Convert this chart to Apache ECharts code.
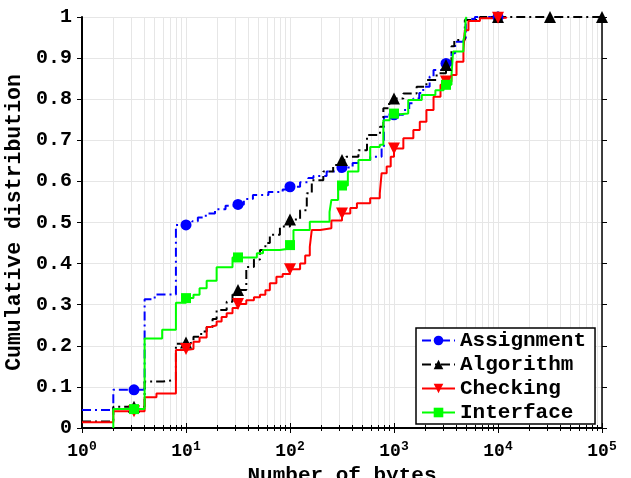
<!DOCTYPE html>
<html>
<head>
<meta charset="utf-8">
<script src="https://cdn.jsdelivr.net/npm/echarts@6/dist/echarts.min.js"></script>
<style>html,body{margin:0;padding:0;background:#fff}#c{width:631px;height:478px}</style>
</head>
<body>
<div id="c"></div>
<script>
// ---- data ----
var seriesNames = ['Assignment', 'Algorithm', 'Checking', 'Interface'];
var markerX = [3.162, 10, 31.62, 100, 316.2, 1000, 3162, 10000, 31623, 100000];
var yTicks = [0, 0.1, 0.2, 0.3, 0.4, 0.5, 0.6, 0.7, 0.8, 0.9, 1];
var xTickExponents = [0, 1, 2, 3, 4, 5];

var assignment = [[1,0.044],[2,0.093],[3.162,0.093],[4,0.313],[5,0.325],[8,0.494],[10,0.494],[11.5,0.503],[13,0.512],[15.5,0.522],[19,0.532],[24,0.541],[31.62,0.544],[36,0.557],[44,0.567],[62,0.574],[85,0.58],[100,0.587],[125,0.598],[150,0.608],[168,0.613],[225,0.624],[316.2,0.634],[400,0.645],[470,0.652],[590,0.66],[760,0.684],[800,0.757],[1000,0.762],[1230,0.774],[1400,0.79],[1535,0.802],[1750,0.815],[1910,0.83],[2200,0.855],[2400,0.871],[2960,0.887],[3162,0.887],[3570,0.912],[3870,0.94],[4650,0.948],[4900,0.995],[6000,1.0],[10000,1.0]];
var algorithm = [[1,0.016],[2,0.052],[3.162,0.052],[4,0.113],[6,0.117],[8,0.205],[10,0.208],[11.8,0.222],[14,0.235],[15.8,0.246],[18,0.265],[19.7,0.287],[24.6,0.307],[28,0.325],[31.62,0.336],[38,0.392],[45,0.41],[51.5,0.433],[58,0.45],[64,0.47],[80,0.49],[100,0.507],[125,0.53],[145,0.571],[162,0.603],[209,0.624],[260,0.64],[316.2,0.652],[346,0.66],[455,0.676],[550,0.713],[733,0.733],[790,0.778],[900,0.795],[1000,0.802],[1230,0.814],[1650,0.83],[2050,0.847],[2570,0.863],[3162,0.883],[3570,0.929],[3800,0.944],[4800,0.993],[6700,1.0],[10000,1.0],[31623,1.0],[100000,1.0]];
var checking = [[1,0.014],[2,0.041],[3.162,0.041],[4,0.075],[5.2,0.084],[8,0.19],[10,0.192],[11.8,0.21],[13.5,0.22],[15.8,0.246],[17.5,0.25],[19.7,0.259],[22,0.27],[24.6,0.279],[28,0.292],[31.62,0.302],[38,0.311],[45,0.318],[51.5,0.324],[58,0.335],[64,0.352],[74,0.368],[85,0.375],[100,0.386],[125,0.4],[140,0.42],[155,0.441],[162,0.482],[195,0.486],[250,0.505],[316.2,0.522],[380,0.535],[440,0.547],[590,0.559],[730,0.571],[760,0.62],[850,0.636],[930,0.66],[1000,0.68],[1230,0.705],[1535,0.725],[1770,0.745],[2050,0.774],[2400,0.806],[2800,0.835],[3162,0.843],[3570,0.859],[3990,0.891],[4650,0.916],[4800,0.968],[5200,0.99],[6700,0.997],[10000,0.998],[12000,1.0]];
var interfaceData = [[2,0],[2,0.046],[3.162,0.046],[4,0.218],[5.9,0.239],[8,0.305],[10,0.316],[11.8,0.324],[13.5,0.34],[15.8,0.358],[19.7,0.391],[28,0.415],[31.62,0.415],[48,0.425],[55,0.433],[80,0.437],[100,0.445],[108,0.482],[155,0.502],[240,0.526],[250,0.555],[290,0.585],[316.2,0.59],[360,0.624],[455,0.652],[590,0.684],[730,0.689],[790,0.749],[910,0.762],[1000,0.765],[1370,0.798],[1850,0.81],[2500,0.822],[3000,0.835],[3162,0.835],[3570,0.859],[3700,0.916],[4650,0.944],[4800,0.956],[4900,0.997],[5000,1.0]];

var colors = ['#0000ff', '#000000', '#ff0000', '#00ff00'];
var FONT = '"Liberation Mono", "DejaVu Sans Mono", monospace';

function isMarker(x) {
  for (var i = 0; i < markerX.length; i++) if (Math.abs(markerX[i] - x) < 1e-9) return true;
  return false;
}
function build(arr, sym, size) {
  return arr.map(function (p) {
    return isMarker(p[0]) ? { value: p, symbol: sym, symbolSize: size } : { value: p, symbol: 'none' };
  });
}

var chart = echarts.init(document.getElementById('c'), null, { renderer: 'canvas' });

var grid = { left: 82, top: 17, width: 520, height: 411, outerBoundsMode: 'none', containLabel: false };
var xBase = {
  type: 'log', logBase: 10, min: 1, max: 100000, gridIndex: 0
};
var option = {
  animation: false,
  backgroundColor: '#ffffff',
  grid: grid,
  xAxis: [
    Object.assign({}, xBase, {
      position: 'bottom',
      name: 'Number of bytes', nameLocation: 'middle', nameGap: 34,
      nameTextStyle: { fontFamily: FONT, fontWeight: 'bold', fontSize: 21, color: '#000' },
      axisLine: { show: true, lineStyle: { color: '#000', width: 2 } },
      axisTick: { show: true, inside: false, length: 5, lineStyle: { color: '#000', width: 1 } },
      minorTick: { show: true, splitNumber: 9, length: 3, lineStyle: { color: '#000', width: 1 } },
      splitLine: { show: true, lineStyle: { color: '#e6e6e6', width: 1 } },
      minorSplitLine: { show: true, lineStyle: { color: '#e6e6e6', width: 1 } },
      axisLabel: {
        margin: 12,
        formatter: function (v) { return '{b|10}{s|' + Math.round(Math.log10(v)) + '}'; },
        rich: {
          b: { fontFamily: FONT, fontWeight: 'bold', fontSize: 18, color: '#000' },
          s: { fontFamily: FONT, fontWeight: 'bold', fontSize: 13, color: '#000', verticalAlign: 'top', padding: [0, 0, 10, 0] }
        }
      }
    }),
    Object.assign({}, xBase, {
      position: 'top',
      axisLine: { show: true, lineStyle: { color: '#000', width: 1.5 } },
      axisTick: { show: true, inside: false, length: 5, lineStyle: { color: '#000', width: 1 } },
      minorTick: { show: true, splitNumber: 9, length: 3, lineStyle: { color: '#000', width: 1 } },
      splitLine: { show: false }, axisLabel: { show: false }
    })
  ],
  yAxis: [
    {
      type: 'value', min: 0, max: 1, interval: 0.1, position: 'left',
      name: 'Cumulative distribution', nameLocation: 'middle', nameGap: 54,
      nameTextStyle: { fontFamily: FONT, fontWeight: 'bold', fontSize: 21.5, color: '#000' },
      axisLine: { show: true, lineStyle: { color: '#000', width: 2 } },
      axisTick: { show: true, inside: false, length: 5, lineStyle: { color: '#000', width: 1 } },
      splitLine: { show: true, lineStyle: { color: '#e6e6e6', width: 1 } },
      axisLabel: {
        margin: 10, fontFamily: FONT, fontWeight: 'bold', fontSize: 20, color: '#000',
        formatter: function (v) { return String(Math.round(v * 10) / 10); }
      }
    },
    {
      type: 'value', min: 0, max: 1, interval: 0.1, position: 'right',
      axisLine: { show: true, lineStyle: { color: '#000', width: 1.5 } },
      axisTick: { show: true, inside: false, length: 5, lineStyle: { color: '#000', width: 1 } },
      splitLine: { show: false }, axisLabel: { show: false }
    }
  ],
  legend: {
    orient: 'vertical', left: 416, top: 328,
    backgroundColor: '#fff', borderColor: '#000', borderWidth: 1.5,
    padding: [2, 9, 1, 5], itemGap: 3, itemWidth: 33, itemHeight: 12,
    textStyle: { fontFamily: FONT, fontWeight: 'bold', fontSize: 21, lineHeight: 21, color: '#000', padding: [0, 0, 0, 0] },
    data: seriesNames
  },
  series: [
    {
      name: seriesNames[0], type: 'line', step: 'end', symbol: 'circle', symbolSize: 11,
      lineStyle: { color: colors[0], width: 2, type: [9, 4, 2, 4] }, itemStyle: { color: colors[0] },
      data: build(assignment, 'circle', 11), z: 3
    },
    {
      name: seriesNames[1], type: 'line', step: 'end', symbol: 'triangle', symbolSize: 12,
      lineStyle: { color: colors[1], width: 2, type: [9, 4, 2, 4] }, itemStyle: { color: colors[1] },
      data: build(algorithm, 'triangle', 12), z: 3
    },
    {
      name: seriesNames[2], type: 'line', step: 'end', symbol: 'path://M0,0 L10,0 L5,10 Z', symbolSize: 12,
      lineStyle: { color: colors[2], width: 2 }, itemStyle: { color: colors[2] },
      data: build(checking, 'path://M0,0 L10,0 L5,10 Z', 12), z: 3
    },
    {
      name: seriesNames[3], type: 'line', step: 'end', symbol: 'rect', symbolSize: 10,
      lineStyle: { color: colors[3], width: 2 }, itemStyle: { color: colors[3] },
      data: build(interfaceData, 'rect', 10), z: 3
    }
  ]
};
chart.setOption(option);
</script>
</body>
</html>
